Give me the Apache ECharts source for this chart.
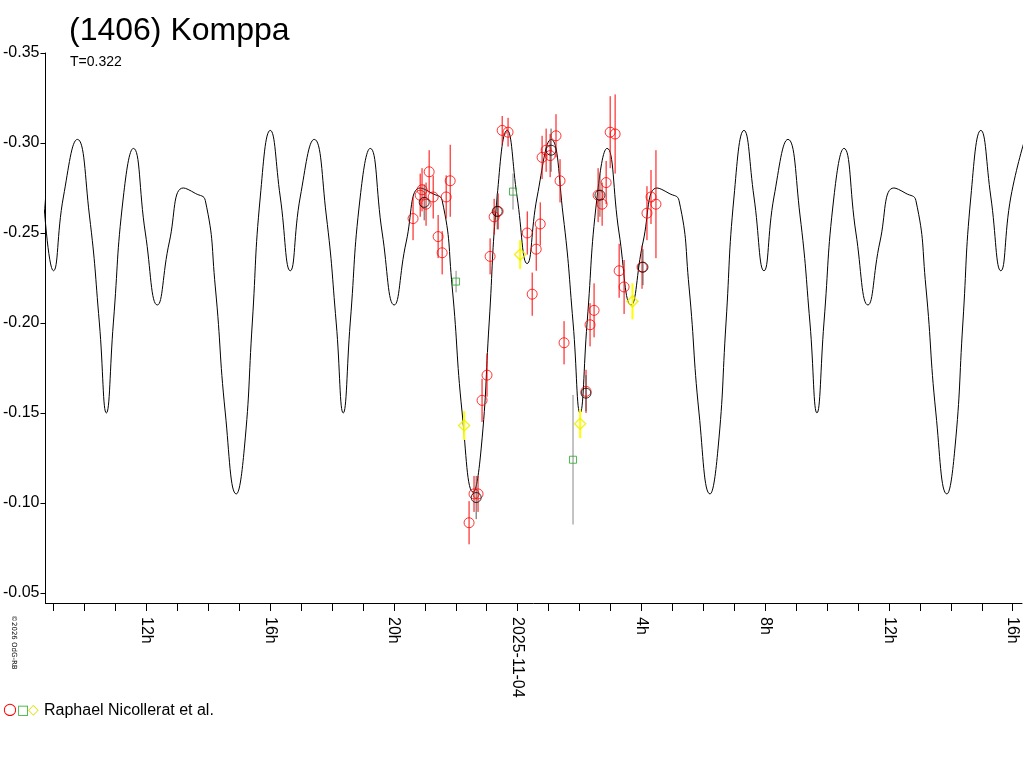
<!DOCTYPE html>
<html><head><meta charset="utf-8">
<script src="https://cdn.jsdelivr.net/npm/echarts@6/dist/echarts.min.js"></script>
<style>html,body{margin:0;padding:0;background:#fff}#c{width:1024px;height:768px}</style>
</head><body><div id="c"></div>
<script>
// model curve: [hour since 2025-11-03 0h, mag]
const curve = [
[8.673,-0.27],[8.996,-0.229],[9.319,-0.27],[9.771,-0.302],[10.159,-0.26],[10.482,-0.20],[10.708,-0.150],[10.934,-0.20],[11.257,-0.27],[11.580,-0.297],[11.968,-0.25],[12.355,-0.210],[12.743,-0.245],[13.195,-0.275],[13.583,-0.272],[13.906,-0.268],[14.229,-0.22],[14.552,-0.15],
[14.907,-0.105],[15.165,-0.13],[15.424,-0.20],[15.682,-0.27],[16.005,-0.307],[16.328,-0.27],[16.651,-0.229],[16.974,-0.27],[17.426,-0.302],[17.814,-0.26],[18.137,-0.20],[18.363,-0.150],[18.589,-0.20],[18.912,-0.27],[19.235,-0.297],[19.623,-0.25],[20.010,-0.210],[20.398,-0.245],[20.850,-0.275],[21.238,-0.272],[21.561,-0.268],[21.884,-0.22],[22.207,-0.15],
[22.562,-0.106],[22.820,-0.13],[23.079,-0.20],[23.337,-0.27],[23.660,-0.307],[23.983,-0.27],[24.306,-0.233],[24.629,-0.27],[25.081,-0.302],[25.469,-0.26],[25.792,-0.20],[26.018,-0.150],[26.244,-0.20],[26.567,-0.27],[26.890,-0.297],[27.278,-0.25],[27.665,-0.210],[28.053,-0.245],[28.505,-0.275],[28.893,-0.272],[29.216,-0.268],[29.539,-0.22],[29.862,-0.15],
[30.217,-0.105],[30.475,-0.13],[30.734,-0.20],[30.992,-0.27],[31.315,-0.307],[31.638,-0.27],[31.961,-0.229],[32.284,-0.27],[32.736,-0.302],[33.124,-0.26],[33.447,-0.20],[33.673,-0.150],[33.899,-0.20],[34.222,-0.27],[34.545,-0.297],[34.933,-0.25],[35.320,-0.210],[35.708,-0.245],[36.160,-0.275],[36.548,-0.272],[36.871,-0.268],[37.194,-0.22],[37.517,-0.15],
[37.872,-0.105],[38.130,-0.13],[38.389,-0.20],[38.647,-0.27],[38.970,-0.307],[39.293,-0.27],[39.616,-0.229],[39.939,-0.27],[40.391,-0.302]
];
// [hour, mag, err]
const redPts = [
[20.62,-0.258,0.012],[20.85,-0.271,0.012],[20.91,-0.274,0.012],[21.04,-0.266,0.012],[21.14,-0.284,0.012],[21.27,-0.270,0.012],[21.43,-0.248,0.012],[21.56,-0.239,0.012],[21.69,-0.270,0.012],[21.82,-0.279,0.02],
[22.43,-0.089,0.012],[22.59,-0.105,0.01],[22.72,-0.105,0.01],[22.85,-0.157,0.012],[23.01,-0.171,0.012],[23.11,-0.237,0.01],[23.24,-0.259,0.01],[23.37,-0.262,0.01],[23.50,-0.307,0.008],[23.69,-0.306,0.008],
[24.31,-0.250,0.012],[24.47,-0.216,0.012],[24.60,-0.241,0.012],[24.73,-0.255,0.012],[24.79,-0.292,0.012],[24.92,-0.296,0.012],[25.05,-0.293,0.012],[25.24,-0.304,0.012],[25.37,-0.279,0.012],[25.50,-0.189,0.012],
[26.21,-0.162,0.012],[26.34,-0.199,0.012],[26.47,-0.207,0.015],[26.60,-0.271,0.015],[26.73,-0.266,0.012],[26.86,-0.278,0.012],[26.99,-0.306,0.02],[27.15,-0.305,0.022],[27.28,-0.229,0.015],[27.44,-0.220,0.015],
[28.02,-0.231,0.012],[28.18,-0.261,0.015],[28.31,-0.270,0.015],[28.47,-0.266,0.03]
];
const blackPts = [[20.98,-0.267,0.01],[22.66,-0.103,0.012],[23.34,-0.262,0.01],[25.08,-0.296,0.012],[26.66,-0.271,0.012],[26.21,-0.161,0.01],[28.05,-0.231,0.01]];
const greenPts = [[22.01,-0.223,0.006],[23.85,-0.273,0.01],[25.79,-0.124,0.036]];
const yellowPts = [[22.27,-0.143,0.008],[24.08,-0.238,0.008],[26.02,-0.144,0.008],[27.71,-0.212,0.01]];
const tickHours = []; for (let h = 9; h <= 40; h++) tickHours.push(h);
const labelHours = [12,16,20,24,28,32,36,40];

function errSeries(pts, color, w){
  return {type:'custom', silent:true, z:2,
    renderItem:(p,api)=>{
      const a=api.coord([api.value(0),api.value(1)-api.value(2)]);
      const b=api.coord([api.value(0),api.value(1)+api.value(2)]);
      return {type:'line',shape:{x1:a[0],y1:a[1],x2:b[0],y2:b[1]},style:{stroke:color,lineWidth:w||1}};
    }, data:pts};
}
function markSeries(pts, color, symbol, size, bw){
  return {type:'scatter', z:3, symbol:symbol, symbolSize:size, data:pts.map(p=>[p[0],p[1]]),
    itemStyle:{color:'rgba(0,0,0,0)', borderColor:color, borderWidth:bw||1}};
}
const chart = echarts.init(document.getElementById('c'));
chart.setOption({
  animation:false,
  grid:{left:45,right:2,top:53,bottom:165},
  title:[{text:'(1406) Komppa',left:64,top:10,textStyle:{fontFamily:'Liberation Sans',fontSize:32,fontWeight:'normal',color:'#000'}},
         {text:'T=0.322',left:65,top:50,textStyle:{fontFamily:'Liberation Sans',fontSize:14,fontWeight:'normal',color:'#000'}}],
  xAxis:{type:'value',min:8.74,max:40.3,
    axisLine:{show:true,onZero:false,lineStyle:{color:'#000'}},
    axisTick:{customValues:tickHours,length:8,lineStyle:{color:'#000'}},
    axisLabel:{customValues:labelHours,rotate:-90,margin:14,color:'#000',fontFamily:'Liberation Sans',fontSize:16,
      formatter:v=>{const h=Math.round(v); return h===24?'2025-11-04':(h%24)+'h';}},
    splitLine:{show:false}},
  yAxis:{type:'value',inverse:true,min:-0.35,max:-0.0444,interval:0.05,
    axisLine:{show:true,lineStyle:{color:'#000'}},axisTick:{show:true,length:5,lineStyle:{color:'#000'}},
    axisLabel:{color:'#000',fontFamily:'Liberation Sans',fontSize:16,margin:6,formatter:v=>v.toFixed(2),
      showMaxLabel:false},
    splitLine:{show:false}},
  series:[
    {type:'line',data:curve,smooth:0.5,showSymbol:false,lineStyle:{color:'#000',width:1},z:1},
    errSeries(redPts,'#ff0000'),errSeries(blackPts,'#555'),errSeries(greenPts,'#888'),errSeries(yellowPts,'#ffff00',2),
    markSeries(redPts,'#ff0000','circle',10),
    markSeries(blackPts,'#000','circle',10),
    markSeries(greenPts,'#22aa22','rect',7),
    markSeries(yellowPts,'#eeee00','diamond',11,1.5)
  ],
  graphic:[
    {type:'text',left:3,top:702,style:{text:'○',fill:'#ff0000',fontSize:16,fontFamily:'DejaVu Sans'}},
    {type:'text',left:17,top:704,style:{text:'□',fill:'#22aa22',fontSize:13,fontFamily:'DejaVu Sans'}},
    {type:'text',left:28,top:703,style:{text:'◇',fill:'#dddd00',fontSize:14,fontFamily:'DejaVu Sans'}},
    {type:'text',left:44,top:703,style:{text:'Raphael Nicollerat et al.',fill:'#000',fontSize:16,fontFamily:'Liberation Sans'}},
    {type:'text',x:10,y:615,rotation:-Math.PI/2,style:{text:'©2026 OdG-RB',fill:'#000',fontSize:7,fontFamily:'DejaVu Sans',align:'left',verticalAlign:'bottom'}}
  ]
});
</script></body></html>
